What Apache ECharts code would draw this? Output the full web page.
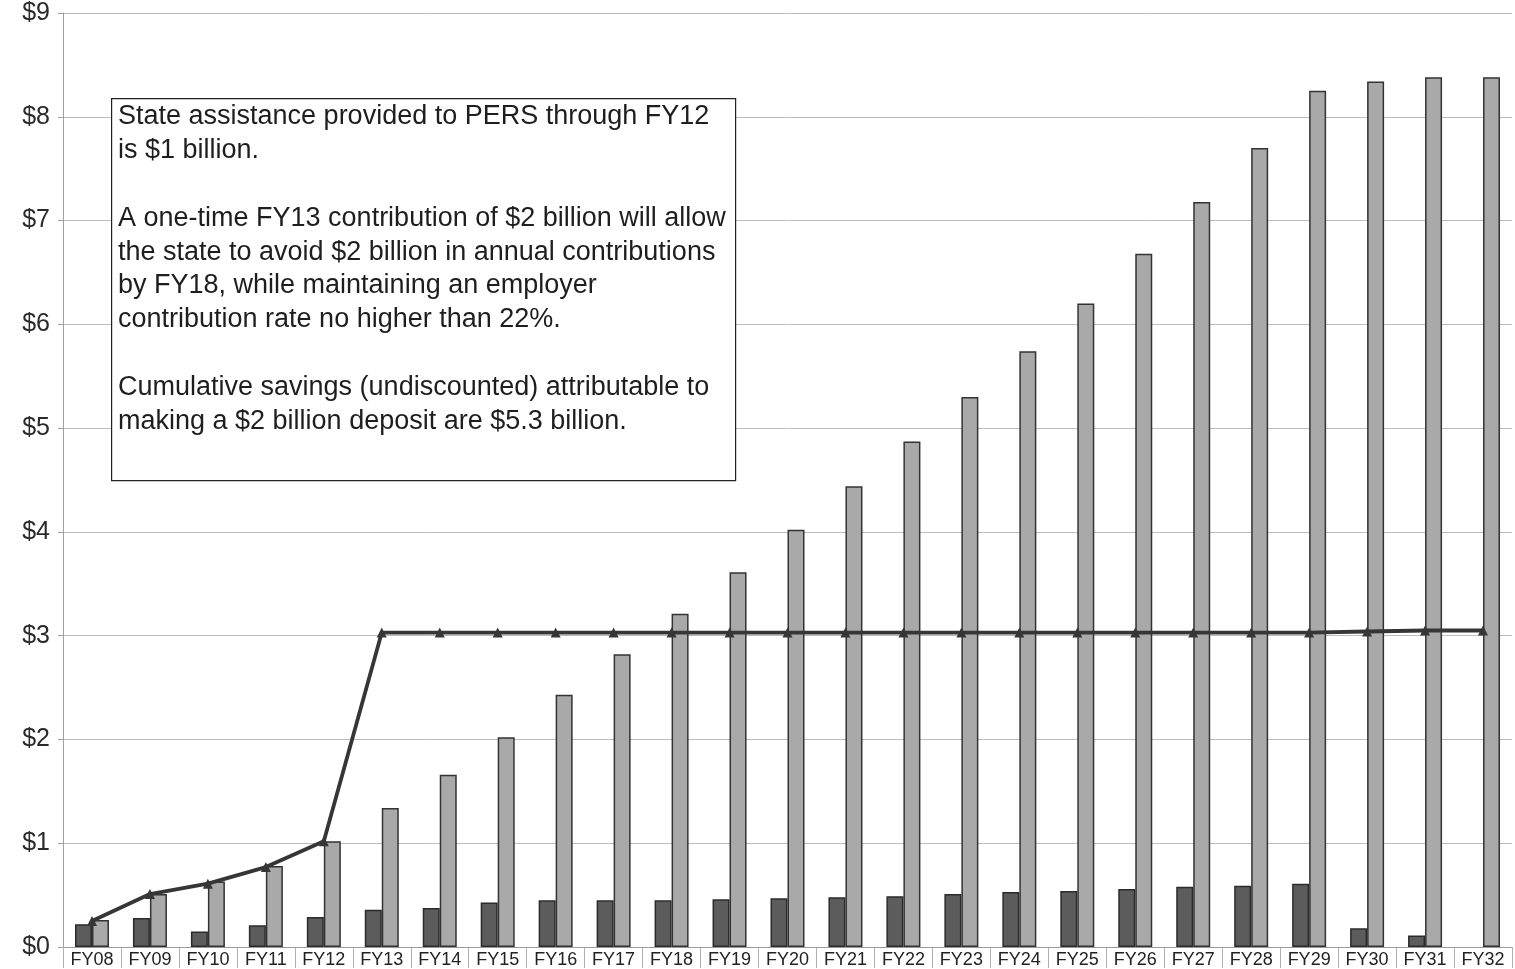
<!DOCTYPE html>
<html>
<head>
<meta charset="utf-8">
<title>PERS contributions FY08–FY32</title>
<script src="https://cdn.jsdelivr.net/npm/echarts@6/dist/echarts.min.js"></script>
<style>
  html, body { margin: 0; padding: 0; background: #fff; }
  #chart { width: 1515px; height: 969px; }
</style>
</head>
<body>
<div id="chart"></div>
<script>
// Fiscal years on the category axis
const years = ['FY08','FY09','FY10','FY11','FY12','FY13','FY14','FY15','FY16','FY17','FY18','FY19','FY20',
  'FY21','FY22','FY23','FY24','FY25','FY26','FY27','FY28','FY29','FY30','FY31','FY32'];

// Dark bars ($ billions)
const darkBars = [0.22,0.28,0.15,0.21,0.29,0.36,0.375,0.43,0.45,0.45,0.45,0.46,0.47,
  0.48,0.49,0.51,0.53,0.54,0.56,0.58,0.59,0.61,0.18,0.11,null];

// Light bars ($ billions)
const lightBars = [0.26,0.51,0.63,0.78,1.02,1.34,1.66,2.02,2.43,2.82,3.21,3.61,4.02,
  4.44,4.87,5.30,5.74,6.20,6.68,7.18,7.70,8.25,8.34,8.38,8.38];

// Line with triangle markers ($ billions)
const lineValues = [0.25,0.51,0.61,0.77,1.02,3.03,3.03,3.03,3.03,3.03,3.03,3.03,3.03,
  3.03,3.03,3.03,3.03,3.03,3.03,3.03,3.03,3.03,3.04,3.05,3.05];

// Y-axis tick values
const yTicks = [0,1,2,3,4,5,6,7,8,9];

const noteLines = [
  'State assistance provided to PERS through FY12',
  'is $1 billion.',
  '',
  'A one-time FY13 contribution of $2 billion will allow',
  'the state to avoid $2 billion in annual contributions',
  'by FY18, while maintaining an employer',
  'contribution rate no higher than 22%.',
  '',
  'Cumulative savings (undiscounted) attributable to',
  'making a $2 billion deposit are $5.3 billion.'
];

const chart = echarts.init(document.getElementById('chart'), null, { renderer: 'canvas' });

chart.setOption({
  animation: false,
  backgroundColor: '#ffffff',
  grid: { left: 63, right: 3, top: 13, bottom: 21, containLabel: false },
  xAxis: {
    type: 'category',
    data: years,
    boundaryGap: true,
    axisLine: { show: true, lineStyle: { color: '#9a9a9a', width: 1 } },
    axisTick: { show: true, alignWithLabel: false, length: 21, lineStyle: { color: '#b0b0b0', width: 1 } },
    axisLabel: { interval: 0, margin: 4, fontFamily: 'Liberation Sans, Arial, sans-serif', fontSize: 18, color: '#222' }
  },
  yAxis: {
    type: 'value',
    min: yTicks[0],
    max: yTicks[yTicks.length - 1],
    interval: 1,
    axisLine: { show: true, lineStyle: { color: '#a0a0a0', width: 1 } },
    axisTick: { show: true, length: 5, lineStyle: { color: '#a0a0a0' } },
    axisLabel: {
      margin: 13,
      fontFamily: 'Liberation Sans, Arial, sans-serif',
      fontSize: 25,
      color: '#2a2a2a',
      formatter: v => '$' + v
    },
    splitLine: { show: true, lineStyle: { color: '#bcbcbc', width: 1 } }
  },
  series: [
    {
      type: 'bar',
      data: darkBars,
      barWidth: 17,
      barGap: '0%',
      itemStyle: { color: '#5c5c5c', borderColor: '#2b2b2b', borderWidth: 1.5 },
      z: 2
    },
    {
      type: 'bar',
      data: lightBars,
      barWidth: 17,
      barGap: '0%',
      itemStyle: { color: '#a9a9a9', borderColor: '#333333', borderWidth: 1.5 },
      z: 2
    },
    {
      type: 'line',
      data: lineValues,
      symbol: 'triangle',
      symbolSize: 10,
      lineStyle: { color: '#363636', width: 3.8 },
      itemStyle: { color: '#363636' },
      z: 5
    }
  ],
  graphic: [
    {
      type: 'rect',
      left: 111,
      top: 98,
      z: 100,
      shape: { width: 624, height: 382 },
      style: { fill: '#ffffff', stroke: '#222222', lineWidth: 1.2 }
    },
    {
      type: 'text',
      left: 118,
      top: 100,
      z: 101,
      style: {
        text: noteLines.join('\n'),
        fontFamily: 'Liberation Sans, Arial, sans-serif',
        fontSize: 27,
        lineHeight: 33.8,
        fill: '#1e1e1e'
      }
    }
  ]
});
</script>
</body>
</html>
